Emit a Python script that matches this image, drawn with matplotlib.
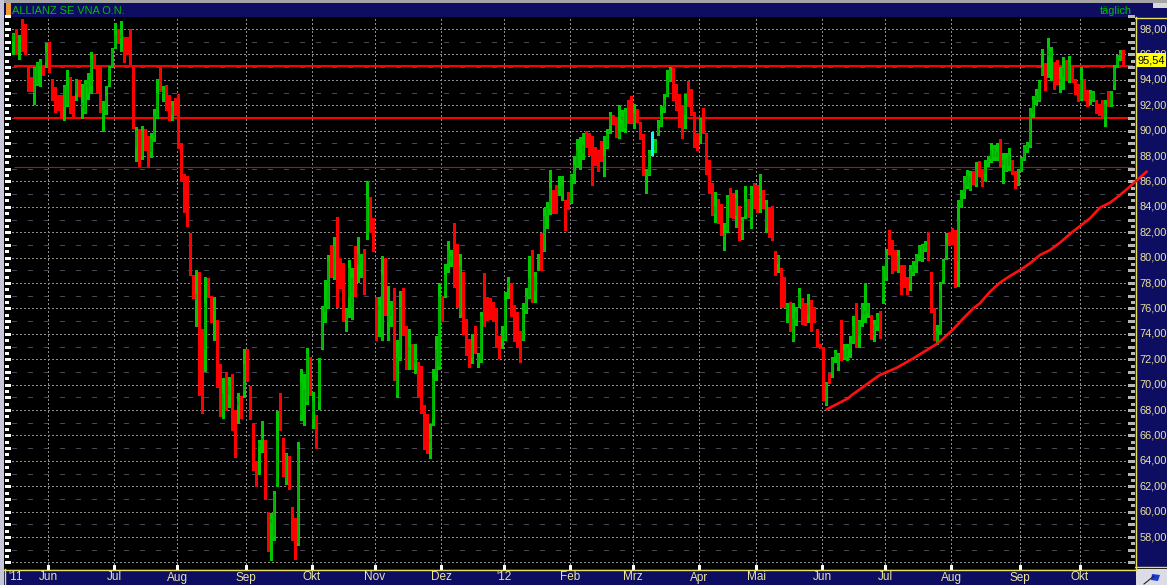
import numpy as np
import pandas as pd
import matplotlib
matplotlib.use("Agg")
import matplotlib.pyplot as plt
from matplotlib.patches import Rectangle, Polygon
from matplotlib.transforms import blended_transform_factory as blend

plt.rcParams['font.family'] = ['Liberation Sans', 'DejaVu Sans']

# ---------------- data ----------------
title = "ALLIANZ SE VNA O.N."
interval_label = "täglich"
start_date = "2011-05-16"
end_date = "2012-10-19"
holidays = ["2011-12-26", "2012-04-06", "2012-04-09", "2012-05-01"]
month_names = {1: "'12", 2: "Feb", 3: "Mrz", 4: "Apr", 5: "Mai", 6: "Jun",
               7: "Jul", 8: "Aug", 9: "Sep", 10: "Okt", 11: "Nov", 12: "Dez"}
first_year_label = "'11"

open_ = [
 97.0, 97.8, 96.8, 97.5, 97.6, 94.9, 94.0, 93.0, 93.7, 95.1,
 94.7, 95.4, 96.9, 94.0, 93.3, 92.7, 92.7, 91.8, 92.0, 92.7,
 92.4, 93.0, 93.4, 91.8, 91.5, 93.0, 93.5, 95.8, 94.9, 94.9,
 91.4, 91.6, 93.7, 95.2, 96.6, 97.7, 97.3, 96.9, 96.9, 97.2,
 94.8, 88.6, 89.8, 88.0, 89.7, 89.4, 88.3, 89.4, 91.1, 94.1,
 92.9, 92.4, 92.5, 91.2, 92.0, 92.8, 88.5, 85.3, 85.8, 79.3,
 78.5, 76.7, 78.6, 72.8, 72.7, 77.8, 76.6, 75.8, 74.9, 71.4,
 68.0, 70.2, 69.2, 70.2, 67.6, 68.3, 68.7, 69.5, 72.1, 69.8,
 65.9, 63.8, 65.1, 65.6, 65.5, 59.9, 59.1, 58.0, 62.1, 66.9,
 64.6, 62.4, 64.0, 59.7, 59.3, 57.5, 67.6, 68.1, 68.6, 71.8,
 67.3, 67.0, 68.6, 72.9, 75.7, 76.1, 80.0, 78.5, 80.5, 79.3,
 78.4, 75.1, 76.9, 76.1, 79.4, 79.4, 79.7, 79.4, 81.8, 84.6,
 81.9, 76.7, 75.9, 74.2, 79.8, 75.0, 75.4, 77.4, 69.2, 72.2,
 76.8, 73.9, 72.7, 72.6, 71.7, 71.7, 70.1, 67.6, 66.8, 65.5,
 67.3, 70.8, 71.5, 76.9, 77.4, 79.6, 79.7, 82.2, 80.4, 75.5,
 78.6, 74.6, 72.5, 72.1, 73.9, 71.8, 72.0, 76.4, 76.0, 76.7,
 76.0, 75.0, 73.3, 73.6, 73.6, 77.6, 77.3, 76.0, 75.0, 73.6,
 73.6, 75.9, 76.9, 79.3, 77.4, 79.8, 80.2, 80.5, 83.3, 83.8,
 84.9, 85.3, 85.3, 84.9, 84.4, 84.1, 84.3, 86.6, 87.2, 88.1,
 88.2, 89.5, 88.9, 87.4, 88.2, 87.6, 88.7, 87.2, 88.7, 90.4,
 91.0, 90.7, 89.5, 90.8, 90.2, 91.9, 91.9, 90.6, 91.3, 90.4,
 89.5, 86.4, 86.5, 88.6, 88.5, 89.8, 90.4, 91.8, 92.7, 94.0,
 94.5, 93.1, 92.7, 91.3, 91.2, 92.9, 92.0, 91.0, 89.6, 89.6,
 91.0, 89.3, 87.4, 85.1, 83.4, 84.5, 84.1, 81.6, 82.1, 84.4,
 84.3, 83.3, 83.9, 82.7, 83.3, 84.4, 83.2, 85.3, 85.4, 84.7,
 84.5, 82.3, 83.9, 83.8, 79.9, 79.5, 79.0, 77.8, 75.6, 76.4,
 73.6, 75.1, 76.1, 76.1, 76.1, 75.5, 76.4, 75.9, 74.3, 73.0,
 72.9, 68.5, 70.8, 70.9, 72.2, 71.4, 74.3, 72.1, 72.2, 72.8,
 73.4, 76.0, 73.8, 75.5, 75.5, 75.6, 75.4, 73.9, 74.6, 75.6,
 76.9, 78.5, 80.9, 81.1, 80.2, 79.0, 79.3, 78.6, 78.2, 78.0,
 78.9, 79.3, 80.2, 79.9, 80.7, 81.1, 78.8, 75.9, 73.2, 74.2,
 78.2, 80.1, 81.4, 81.6, 81.7, 79.7, 84.1, 85.1, 85.6, 85.3,
 86.5, 85.8, 87.3, 86.6, 86.6, 87.5, 87.8, 87.9, 87.9, 89.0,
 87.3, 86.9, 87.2, 87.5, 86.5, 85.8, 86.9, 87.8, 88.5, 88.9,
 91.4, 92.4, 92.4, 94.4, 95.0, 95.9, 95.8, 95.3, 95.5, 93.8,
 94.2, 95.4, 94.0, 95.1, 94.0, 93.6, 92.5, 93.35, 92.7, 92.5,
 92.5, 92.3, 92.0, 92.0, 91.1, 92.4, 91.9, 93.6, 95.2, 95.9,
 95.6]

high_ = [
 97.7, 98.0, 97.5, 98.8, 98.4, 95.0, 94.2, 95.0, 95.4, 95.6,
 95.2, 96.9, 97.0, 94.1, 93.4, 92.8, 92.8, 93.6, 94.8, 94.2,
 92.7, 94.1, 94.0, 93.7, 94.0, 94.5, 96.2, 96.0, 95.0, 95.1,
 92.3, 93.5, 95.1, 96.5, 98.5, 98.0, 98.6, 97.4, 97.4, 98.0,
 95.1, 90.3, 90.1, 90.4, 90.1, 89.6, 89.8, 91.7, 94.1, 95.0,
 93.5, 93.6, 92.8, 92.3, 92.6, 92.9, 89.0, 86.6, 86.4, 81.9,
 78.6, 79.0, 78.9, 74.4, 78.5, 78.4, 77.0, 76.9, 75.1, 71.6,
 70.5, 71.0, 70.6, 70.8, 68.0, 69.3, 69.1, 72.8, 72.8, 69.9,
 67.0, 64.0, 65.6, 67.1, 65.6, 60.0, 59.9, 61.6, 67.9, 69.3,
 65.8, 64.6, 64.4, 60.4, 59.5, 65.5, 71.2, 70.8, 72.9, 72.2,
 69.4, 67.6, 72.1, 76.2, 78.2, 80.2, 81.0, 81.6, 83.2, 80.0,
 79.6, 76.0, 79.8, 79.2, 80.9, 81.6, 80.3, 80.7, 86.0, 84.8,
 83.1, 76.9, 76.9, 80.1, 80.0, 77.8, 76.6, 77.6, 73.5, 77.4,
 77.6, 74.6, 74.4, 73.2, 73.2, 71.8, 71.5, 68.4, 67.7, 66.9,
 71.2, 73.8, 78.0, 77.0, 79.5, 81.3, 80.6, 82.7, 81.1, 80.3,
 78.9, 75.2, 73.6, 74.0, 74.6, 72.5, 75.7, 78.8, 76.9, 76.8,
 76.5, 76.0, 73.8, 74.6, 77.3, 78.5, 78.0, 76.3, 75.7, 74.2,
 76.4, 77.6, 80.1, 80.6, 78.9, 80.3, 81.9, 83.9, 84.4, 86.9,
 85.3, 85.7, 86.4, 86.4, 84.5, 85.2, 86.6, 88.0, 89.3, 89.5,
 89.8, 90.0, 89.8, 89.6, 88.7, 88.5, 89.2, 89.6, 90.1, 91.5,
 91.2, 91.0, 92.0, 91.6, 91.8, 92.4, 92.7, 92.1, 91.7, 90.7,
 89.7, 87.0, 88.5, 89.9, 89.3, 90.8, 91.9, 92.9, 94.8, 95.0,
 94.9, 93.7, 92.9, 92.0, 92.9, 93.9, 93.3, 91.5, 89.8, 91.0,
 91.8, 89.8, 87.7, 85.9, 85.2, 84.6, 84.2, 82.7, 84.9, 85.5,
 85.1, 85.3, 84.1, 83.2, 85.6, 84.6, 85.6, 85.9, 85.7, 86.6,
 85.3, 84.5, 84.0, 84.1, 80.5, 80.2, 79.2, 78.5, 76.4, 76.5,
 76.4, 76.1, 77.6, 76.8, 76.4, 77.1, 76.7, 76.1, 74.4, 73.2,
 73.0, 70.2, 70.9, 72.2, 72.7, 72.5, 75.1, 73.2, 73.2, 73.8,
 75.4, 76.4, 75.1, 76.4, 78.0, 76.4, 75.5, 75.1, 75.6, 75.8,
 79.3, 80.7, 82.2, 81.4, 80.6, 80.6, 79.4, 79.4, 78.5, 79.4,
 79.7, 80.3, 81.0, 81.1, 81.3, 82.0, 78.9, 76.0, 74.7, 78.1,
 79.9, 81.9, 82.0, 82.3, 82.2, 84.5, 85.3, 86.4, 86.9, 86.8,
 86.8, 87.55, 87.6, 86.95, 87.7, 88.0, 89.0, 88.9, 89.0, 89.3,
 88.2, 88.2, 88.6, 87.7, 86.8, 87.0, 87.9, 88.9, 89.1, 91.75,
 92.7, 93.3, 94.0, 96.4, 95.35, 97.26, 96.6, 95.4, 95.55, 95.0,
 95.8, 95.55, 95.9, 95.2, 94.1, 93.7, 95.0, 94.1, 93.2, 93.2,
 93.1, 92.4, 92.1, 92.4, 92.4, 93.1, 93.1, 95.2, 95.95, 96.35,
 96.35]

low_ = [
 96.0, 96.0, 95.6, 96.3, 96.0, 93.1, 93.1, 92.1, 93.6, 93.5,
 94.4, 95.0, 94.6, 92.4, 91.5, 91.6, 91.0, 90.8, 91.9, 91.4,
 91.0, 92.4, 92.7, 91.0, 91.4, 92.5, 93.0, 94.9, 93.0, 91.5,
 90.0, 91.3, 93.5, 95.0, 96.5, 96.9, 96.3, 95.4, 96.0, 95.2,
 90.2, 87.6, 87.2, 87.8, 88.5, 87.1, 87.9, 89.2, 91.0, 93.1,
 92.3, 91.6, 90.8, 90.8, 91.2, 88.6, 86.0, 83.6, 82.5, 78.6,
 76.8, 74.6, 69.2, 67.8, 71.1, 76.9, 74.9, 73.5, 69.8, 67.5,
 67.4, 68.0, 68.2, 66.4, 64.3, 67.0, 67.4, 69.0, 70.3, 67.3,
 63.3, 62.0, 63.0, 64.7, 61.0, 56.9, 56.2, 57.8, 62.0, 66.4,
 62.8, 62.2, 61.8, 57.8, 56.3, 57.4, 67.2, 66.8, 68.5, 69.2,
 66.6, 65.0, 68.1, 72.8, 74.9, 76.0, 78.5, 78.3, 76.1, 77.6,
 75.0, 74.2, 75.3, 75.2, 77.0, 78.1, 78.5, 77.1, 81.5, 82.0,
 80.5, 73.5, 73.8, 73.5, 75.5, 73.5, 74.6, 70.4, 69.0, 71.9,
 73.9, 71.2, 71.2, 71.2, 70.9, 69.0, 67.8, 64.9, 64.6, 64.2,
 66.8, 70.4, 71.2, 75.0, 76.9, 78.9, 79.3, 77.7, 76.1, 75.3,
 74.0, 72.3, 71.4, 71.7, 72.5, 71.4, 71.8, 74.6, 75.1, 75.2,
 75.0, 73.0, 72.1, 72.9, 73.5, 76.8, 75.4, 73.4, 73.0, 71.8,
 73.5, 75.6, 76.8, 76.5, 76.5, 79.0, 79.0, 80.5, 82.3, 83.4,
 83.5, 83.5, 84.9, 84.5, 82.2, 83.8, 84.3, 85.9, 87.1, 87.0,
 87.8, 88.7, 88.1, 85.7, 87.3, 86.8, 87.6, 86.4, 88.6, 89.8,
 90.5, 89.5, 89.45, 90.0, 89.9, 90.6, 90.6, 90.2, 90.7, 89.3,
 86.5, 85.1, 86.5, 88.1, 88.3, 89.65, 90.4, 91.5, 92.7, 93.9,
 92.4, 91.6, 90.3, 89.4, 90.2, 91.9, 91.2, 88.7, 88.5, 89.0,
 89.8, 86.6, 85.1, 83.35, 82.8, 82.7, 81.8, 80.6, 82.0, 83.2,
 83.1, 82.4, 81.4, 81.5, 83.1, 83.2, 82.3, 83.9, 83.6, 83.6,
 83.9, 82.0, 81.65, 81.4, 78.6, 78.9, 76.1, 76.1, 74.95, 74.2,
 73.4, 74.7, 76.1, 74.8, 74.7, 74.95, 74.2, 74.95, 72.95, 72.85,
 68.8, 68.4, 70.1, 70.6, 71.8, 71.15, 71.9, 72.0, 71.9, 72.2,
 73.25, 73.0, 73.0, 74.6, 74.95, 75.35, 73.56, 73.4, 74.3, 73.7,
 76.4, 78.2, 80.3, 78.8, 79.0, 78.9, 77.1, 77.7, 77.1, 77.45,
 78.6, 78.9, 79.8, 79.7, 80.5, 79.8, 75.7, 73.5, 73.2, 74.0,
 78.0, 79.9, 81.0, 81.1, 77.7, 77.8, 84.0, 84.7, 85.45, 85.3,
 85.8, 85.6, 86.4, 85.6, 86.0, 87.2, 87.55, 87.7, 87.7, 87.2,
 85.85, 86.8, 86.9, 86.6, 85.45, 85.7, 86.8, 87.7, 88.3, 88.7,
 91.1, 92.1, 92.3, 94.4, 93.2, 94.24, 94.0, 93.3, 93.7, 93.06,
 93.3, 94.0, 93.85, 93.85, 92.9, 92.3, 92.4, 92.4, 91.9, 92.1,
 92.3, 91.4, 91.2, 91.05, 90.4, 91.9, 91.9, 93.3, 95.0, 95.55,
 95.15]

close_ = [
 97.6, 96.1, 96.9, 97.3, 96.1, 94.0, 93.5, 94.9, 95.3, 95.4,
 94.6, 96.2, 94.7, 92.6, 93.1, 91.8, 91.8, 93.4, 93.5, 91.9,
 92.3, 94.0, 92.8, 92.2, 93.7, 94.0, 95.6, 95.2, 94.0, 91.9,
 91.6, 92.7, 94.9, 96.4, 97.5, 97.4, 97.5, 96.7, 96.8, 95.4,
 91.6, 90.0, 87.8, 89.9, 89.2, 88.0, 89.3, 91.2, 93.0, 93.3,
 93.2, 91.9, 91.0, 91.9, 91.6, 88.8, 86.6, 85.0, 82.8, 79.0,
 76.9, 77.1, 71.0, 72.6, 76.4, 77.0, 76.3, 75.9, 71.7, 68.8,
 69.3, 68.8, 69.9, 67.7, 66.0, 68.7, 68.0, 71.6, 70.7, 67.9,
 63.8, 62.8, 65.4, 65.8, 61.3, 57.4, 59.4, 61.4, 65.6, 66.8,
 63.3, 64.5, 62.1, 58.3, 58.9, 64.9, 70.1, 69.6, 72.4, 70.8,
 68.7, 66.9, 71.7, 75.9, 76.1, 79.7, 79.0, 80.9, 78.9, 78.0,
 75.6, 75.9, 79.2, 78.4, 78.6, 80.3, 79.8, 78.6, 84.6, 83.1,
 81.2, 74.7, 76.2, 78.6, 76.2, 75.4, 75.9, 72.2, 72.1, 76.1,
 75.0, 73.3, 73.0, 72.5, 71.9, 69.5, 68.3, 65.8, 65.2, 65.7,
 70.5, 72.8, 76.9, 76.1, 78.6, 80.6, 80.1, 78.2, 76.9, 79.3,
 74.2, 73.0, 71.5, 73.4, 72.7, 72.2, 75.4, 75.4, 75.7, 75.9,
 75.4, 73.1, 73.2, 73.8, 76.7, 78.0, 76.0, 74.8, 73.8, 72.5,
 75.9, 77.0, 78.4, 78.0, 78.5, 79.9, 80.0, 83.3, 83.9, 85.5,
 84.8, 84.9, 85.4, 85.6, 83.3, 84.0, 86.4, 87.3, 88.5, 88.2,
 88.9, 89.1, 88.3, 87.0, 88.1, 87.5, 88.0, 88.0, 89.7, 91.2,
 90.6, 89.8, 90.0, 91.1, 91.5, 91.5, 90.7, 91.4, 91.2, 90.2,
 86.8, 86.8, 88.2, 88.6, 89.1, 90.2, 91.3, 92.5, 94.0, 94.8,
 93.1, 92.7, 91.4, 91.2, 92.5, 92.4, 91.4, 89.3, 89.5, 90.8,
 90.2, 87.2, 86.7, 83.5, 84.1, 82.8, 81.9, 81.9, 84.7, 83.4,
 83.4, 84.6, 82.3, 82.9, 84.4, 84.0, 84.9, 84.3, 84.3, 84.85,
 84.0, 84.2, 83.2, 83.7, 79.85, 80.1, 77.1, 76.5, 76.3, 74.8,
 75.2, 75.7, 77.2, 75.5, 75.45, 76.3, 74.8, 75.5, 73.0, 72.95,
 69.3, 70.1, 70.2, 71.9, 72.5, 72.3, 72.2, 72.7, 73.0, 73.3,
 74.6, 73.9, 74.95, 76.1, 75.9, 76.3, 73.64, 74.8, 75.4, 73.9,
 79.0, 80.2, 80.5, 79.3, 79.4, 80.1, 77.8, 78.5, 77.6, 79.0,
 79.4, 80.1, 80.8, 80.9, 81.0, 79.9, 75.9, 74.2, 74.2, 77.45,
 79.7, 81.1, 81.15, 81.4, 78.6, 83.0, 84.7, 85.9, 86.4, 86.4,
 86.2, 87.0, 87.2, 86.4, 87.0, 87.6, 88.5, 88.6, 88.3, 87.4,
 87.7, 87.8, 88.1, 87.0, 85.85, 86.8, 87.8, 88.7, 88.9, 91.6,
 92.4, 92.8, 93.98, 95.0, 94.45, 96.47, 96.2, 94.4, 94.0, 94.1,
 94.9, 94.25, 95.4, 94.0, 93.3, 92.5, 94.0, 93.3, 92.0, 92.9,
 92.95, 91.9, 91.5, 91.1, 92.1, 92.0, 92.85, 94.9, 95.8, 96.1,
 95.54]

last_price = 95.54
resistance_levels = [95.05, 90.97]
thin_level = 87.1

# rising average line (day position, value)
ma_day = [271.2, 278.4, 279.6, 282.3, 287.3, 289.0, 294.6, 300.1, 304.6,
          307.9, 310.1, 313.4, 316.8, 320.1, 322.3, 325.7, 329.0, 332.3,
          335.7, 339.0, 342.3, 345.7, 349.0, 352.3, 355.7, 359.0, 362.3,
          365.7, 369.0, 372.3, 375.7, 377.9]
ma_val = [68.05, 68.92, 69.18, 69.63, 70.49, 70.76, 71.33, 72.07, 72.72,
          73.20, 73.64, 74.35, 75.22, 76.01, 76.40, 77.32, 78.03, 78.55,
          79.02, 79.55, 80.20, 80.60, 81.18, 81.86, 82.49, 83.09, 83.93,
          84.33, 84.93, 85.59, 86.32, 86.77]

# ---------------- derived ----------------
O = np.array(open_); Hh = np.array(high_); L = np.array(low_); C = np.array(close_)
N = len(C)
dates = pd.bdate_range(start_date, end_date, freq="C", holidays=holidays)[:N]
xi = np.arange(N)
month_start = [i for i in range(N) if i > 0 and dates[i].month != dates[i - 1].month]
month_lab = [month_names[dates[i].month] for i in month_start]

# ---------------- figure ----------------
W, Hpx = 1167, 585
fig = plt.figure(figsize=(W / 100, Hpx / 100), dpi=100, facecolor="black")
bg = fig.add_axes([0, 0, 1, 1], zorder=0)
bg.set_xlim(0, W); bg.set_ylim(Hpx, 0); bg.axis("off")

NAVY = "#0d0d62"
YEL = "#ece59a"
BORDER = "#e8e060"

bg.add_patch(Rectangle((0, 0), W, 3, color="#a4a4a4", lw=0))
bg.add_patch(Rectangle((4, 3), W - 4, 14, color=NAVY, lw=0))
bg.add_patch(Rectangle((0, 0), 4, Hpx, color="#c6c6d8", lw=0))
bg.add_patch(Rectangle((6, 3), 5, 14, color="#f09a30", lw=0))
bg.add_patch(Rectangle((1153, 3), 14, 5, color="#d8d8d8", lw=0))
bg.add_patch(Rectangle((1135, 17), W - 1135, 550, color=NAVY, lw=0))
bg.add_patch(Rectangle((4, 569), 1132, 16, color=NAVY, lw=0))
bg.add_patch(Rectangle((1136, 569), W - 1136, 16, color="#dcdce6", lw=0))
bg.add_patch(Polygon([[1152, 574], [1160, 575], [1158, 581], [1151, 580]],
                     closed=True, color="#1c3cd0", lw=0))
bg.plot([1144, 1154], [584, 576], color="#202020", lw=0.8)
bg.plot([4, 1136], [569.5, 569.5], color=BORDER, lw=1)
bg.plot([4.5, 4.5], [569, 585], color=BORDER, lw=1)
bg.plot([1135.5, 1135.5], [17, 569], color=BORDER, lw=1)
bg.plot([1135, W], [17.5, 17.5], color=BORDER, lw=1)
bg.plot([1135, W], [566.5, 566.5], color=BORDER, lw=1)

bg.text(12, 10.5, title, color="#00c000", fontsize=7.9, va="center", ha="left")
bg.text(1100, 10.5, interval_label, color="#00c000", fontsize=7.9, va="center", ha="left")

# main plot area
ax = fig.add_axes([12 / W, (Hpx - 568) / Hpx, (1135 - 12) / W, (568 - 17) / Hpx], zorder=2)
ax.set_facecolor("black")
XL = (-1 / 3, 374.0)
YL = (55.56, 98.945)
ax.set_xlim(*XL); ax.set_ylim(*YL)
ax.set_autoscale_on(False)
for s in ax.spines.values():
    s.set_visible(False)
ax.set_xticks([]); ax.set_yticks([])

px_y = blend(bg.transData, ax.transData)   # x in pixels, y in price
x_py = blend(ax.transData, bg.transData)   # x in day index, y in pixels

# grid
for v in range(56, 99):
    if v % 2 == 0:
        ax.axhline(v, color="#8c8c8c", lw=0.75, ls=(0, (1, 2)), antialiased=False, zorder=1)
    else:
        ax.axhline(v, color="#46465a", lw=0.75, ls=(0, (4, 11)), antialiased=False, zorder=1)
for i in month_start:
    ax.axvline(i - 0.33, color="#8c8c8c", lw=0.75, ls=(0, (1, 2)), antialiased=False, zorder=1)

# horizontal levels
ax.hlines(resistance_levels, 0.3, 373.3, colors="#ff0000", lw=1.5, zorder=2)
ax.hlines([thin_level], 0.3, 373.3, colors="#d80000", lw=0.8, zorder=2)

# candles
up = C > O
dn = C < O
wick_col = np.where(up, "#00c800", np.where(dn, "#ff0000", "#00ffff"))
body_col = np.where(up, "#00b000", np.where(dn, "#ff0000", "#00ffff"))
hi = np.maximum(Hh, np.maximum(O, C))
lo = np.minimum(L, np.minimum(O, C))
ax.vlines(xi, lo, hi, colors=wick_col, lw=0.75, antialiased=False, zorder=3)
bottom = np.minimum(O, C)
height = np.maximum(np.abs(C - O), 0.09)
ax.bar(xi, height, bottom=bottom, width=0.9, color=body_col, linewidth=0,
       antialiased=False, zorder=4)

# average line
ax.plot(ma_day, ma_val, color="#ff1010", lw=1.9, clip_on=False, zorder=5,
        solid_capstyle="round")

# left tick strip
lv = np.arange(56, 99.01, 0.5)
ax.hlines([v for v in lv if v % 1 == 0], 5, 9.5, transform=px_y, colors="white",
          lw=0.9, clip_on=False, antialiased=False)
ax.hlines([v for v in lv if v % 1 != 0], 5, 8, transform=px_y, colors="white",
          lw=0.9, clip_on=False, antialiased=False)
# right tick marks
ax.hlines([v for v in lv if v % 1 == 0], 1128, 1134, transform=px_y, colors="#b8b8b8",
          lw=0.9, clip_on=False, antialiased=False)
ax.hlines([v for v in lv if v % 1 != 0], 1131, 1134, transform=px_y, colors="#b8b8b8",
          lw=0.9, clip_on=False, antialiased=False)

# right labels
for v in range(58, 99, 2):
    ax.text(1139.5, v, f"{v},00", transform=px_y, color=YEL, fontsize=7.9,
            va="center", ha="left", clip_on=False, zorder=6)

# last price tag
ax.add_patch(Rectangle((1137, last_price - 0.56), 29, 1.12, transform=px_y,
                       facecolor="#ffff00", edgecolor="none", clip_on=False, zorder=8))
ax.text(1151.5, last_price, f"{last_price:.2f}".replace(".", ","), transform=px_y,
        color="black", fontsize=7.9, va="center", ha="center", clip_on=False, zorder=9)

# bottom month labels and ticks
for i, lab in zip(month_start, month_lab):
    ax.text(i - 0.33, 577.5, lab, transform=x_py, color=YEL, fontsize=8.5,
            va="center", ha="center", clip_on=False, zorder=6)
ax.vlines([i - 0.33 for i in month_start], 565, 569, transform=x_py, colors="white",
          lw=0.9, clip_on=False, antialiased=False)
ax.text(0.8, 577.5, first_year_label, transform=x_py, color=YEL, fontsize=8.5,
        va="center", ha="center", clip_on=False, zorder=6)

ax.set_xlim(*XL); ax.set_ylim(*YL)
fig.savefig("out.png", dpi=100, facecolor="black")
